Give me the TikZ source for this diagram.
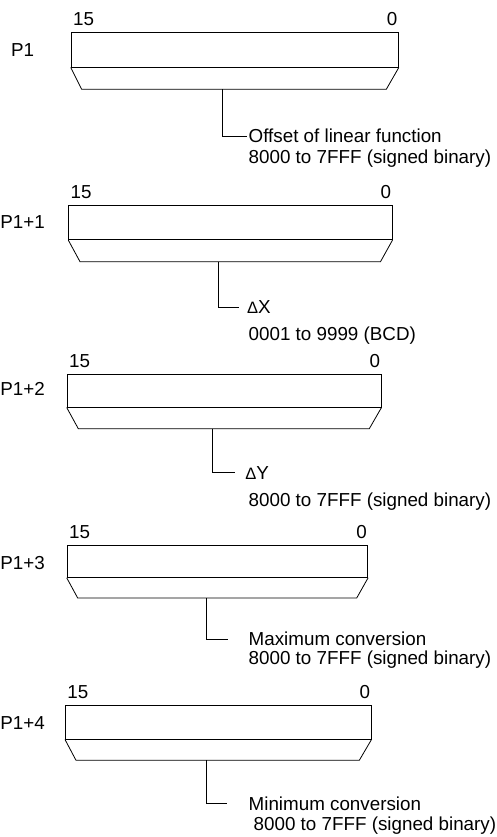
\documentclass[tikz,border=0pt]{standalone}
\usepackage{fontspec}
\setmainfont{Liberation Sans}
\usetikzlibrary{positioning}
\newcommand{\dlt}{{\fontsize{16.5}{16.5}\selectfont Δ}}

\begin{document}
\begin{tikzpicture}[x=1pt,y=-1pt,line width=0.8pt,font=\fontsize{18.8}{22}\selectfont]
  \tikzstyle{reg}=[draw,rectangle,anchor=north west,inner sep=0pt]
  \tikzstyle{bit}=[inner sep=0pt]
  \tikzstyle{addr}=[inner sep=0pt,text height=13pt,text depth=0pt]
  \tikzstyle{txt}=[inner sep=0pt,anchor=west,text height=13pt,text depth=0pt]
\useasboundingbox (0,0) rectangle (497,837);

\node[reg,minimum width=327.3pt,minimum height=35pt] (r1) at (70.7,31.7) {};
\node[reg,minimum width=323.4pt,minimum height=34.3pt] (r2) at (68.3,205) {};
\node[reg,minimum width=314pt,minimum height=33.2pt] (r3) at (66.7,373.5) {};
\node[reg,minimum width=300.6pt,minimum height=32.5pt] (r4) at (66.7,544.5) {};
\node[reg,minimum width=305.7pt,minimum height=34.2pt] (r5) at (65,704.5) {};

\node[bit] (h1) [above right=5.5pt and 2pt of r1.north west] {15};
\node[bit] (l1) [above left=5.5pt and 1pt of r1.north east] {0};
\node[bit] (h2) [above right=5.5pt and 2pt of r2.north west] {15};
\node[bit] (l2) [above left=5.5pt and 1pt of r2.north east] {0};
\node[bit] (h3) [above right=5.5pt and 2pt of r3.north west] {15};
\node[bit] (l3) [above left=5.5pt and 1pt of r3.north east] {0};
\node[bit] (h4) [above right=5.5pt and 2pt of r4.north west] {15};
\node[bit] (l4) [above left=5.5pt and 1pt of r4.north east] {0};
\node[bit] (h5) [above right=5.5pt and 2pt of r5.north west] {15};
\node[bit] (l5) [above left=5.5pt and 1pt of r5.north east] {0};

\node[addr] (p1) at (22.5,50) {P1};
\node[addr] (p2) at (22.5,222) {P1+1};
\node[addr] (p3) at (22.5,389) {P1+2};
\node[addr] (p4) at (22.5,563) {P1+3};
\node[addr] (p5) at (22.5,723) {P1+4};

\node[txt] (d1a) at (248.3,136) {Offset of linear function};
\node[txt] (d1b) at (248.3,156.7) {8000 to 7FFF (signed binary)};
\node[txt] (d2a) at (246.7,307.3) {\dlt X};
\node[txt] (d2b) at (248.3,334) {0001 to 9999 (BCD)};
\node[txt] (d3a) at (245,472.7) {\dlt Y};
\node[txt] (d3b) at (248.3,500) {8000 to 7FFF (signed binary)};
\node[txt] (d4a) at (248.3,639) {Maximum conversion};
\node[txt] (d4b) at (248.3,657.5) {8000 to 7FFF (signed binary)};
\node[txt] (d5a) at (248.3,803.7) {Minimum conversion};
\node[txt] (d5b) at (253.3,823.5) {8000 to 7FFF (signed binary)};

\draw (r1.south west) -- (81.7,89.3) -- (386.3,89.3) -- (r1.south east);
\draw (r2.south west) -- (80,261.7) -- (380.5,261.7) -- (r2.south east);
\draw (r3.south west) -- (78.3,428.7) -- (369.3,428.7) -- (r3.south east);
\draw (r4.south west) -- (77.7,598) -- (356.7,598) -- (r4.south east);
\draw (r5.south west) -- (76,760.3) -- (359.3,760.3) -- (r5.south east);

\coordinate (s1) at (222.5,89.3);
\coordinate (s2) at (218.3,261.7);
\coordinate (s3) at (212.3,428.7);
\coordinate (s4) at (206,598);
\coordinate (s5) at (206,760.3);
\draw[shorten >=1.6pt] (s1) |- (d1a.west);
\draw[shorten >=7.4pt] (s2) |- (d2a.west);
\draw[shorten >=10pt] (s3) |- (d3a.west);
\draw[shorten >=20pt] (s4) |- (d4a.west);
\draw[shorten >=21.6pt] (s5) |- (d5a.west);
\end{tikzpicture}
\end{document}
